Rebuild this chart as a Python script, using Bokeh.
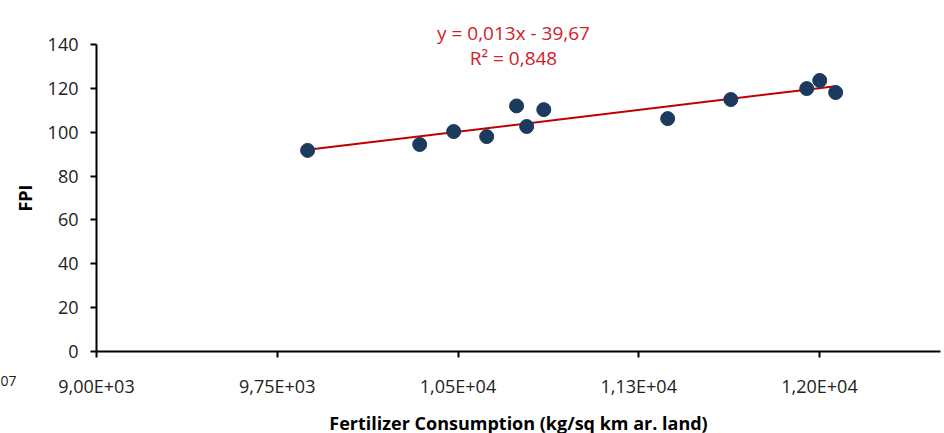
import numpy as np
from bokeh.plotting import figure
from bokeh.models import Range1d, FixedTicker, CustomJSTickFormatter, Label
from bokeh.embed import file_html
from bokeh.resources import INLINE

# Data
fertilizer = [9876, 10341, 10482, 10619, 10743, 10785, 10856, 11370, 11632, 11947, 12001, 12067]
fpi = [91.7, 94.4, 100.3, 98.0, 112.0, 102.6, 110.3, 106.2, 114.9, 119.9, 123.6, 118.1]
x_ticks = [9000, 9750, 10500, 11250, 12000]
x_tick_labels = ["9,00E+03", "9,75E+03", "1,05E+04", "1,13E+04", "1,20E+04"]
y_ticks = [0, 20, 40, 60, 80, 100, 120, 140]
equation_text = "y = 0,013x - 39,67"
r2_text = "R\u00b2 = 0,848"

FONT = "Open Sans"
W, H = 944, 433
# layout: axis origin in pixels and scale
X0_PX, Y0_PX = 96.0, 351.0
X_SCALE = 180.75 / 750.0        # px per x unit
Y_SCALE = (351.0 - 44.0) / 140.0  # px per y unit
x_start = 9000 - X0_PX / X_SCALE
x_end = x_start + W / X_SCALE
y_start = -(H - Y0_PX) / Y_SCALE
y_end = y_start + H / Y_SCALE

p = figure(width=W, height=H, output_backend="svg", toolbar_location=None,
           x_range=Range1d(x_start, x_end), y_range=Range1d(y_start, y_end),
           min_border=0)
p.outline_line_color = None
p.xgrid.visible = False
p.ygrid.visible = False

# Trendline (least squares fit of the data)
slope, intercept = np.polyfit(fertilizer, fpi, 1)
xs = [min(fertilizer), max(fertilizer)]
ys = [slope * x + intercept for x in xs]
p.line(xs, ys, line_color="#c00000", line_width=2)

p.scatter(fertilizer, fpi, size=14, fill_color="#1b3a5e", line_color="#1b3a5e")

label_map = {str(t): l for t, l in zip(x_ticks, x_tick_labels)}
p.xaxis.ticker = FixedTicker(ticks=x_ticks)
p.xaxis.formatter = CustomJSTickFormatter(args=dict(m=label_map), code="return m[String(Math.round(tick))] || '';")
p.yaxis.ticker = FixedTicker(ticks=y_ticks)
p.xaxis.fixed_location = 0
p.yaxis.fixed_location = 9000
p.xaxis.bounds = (9000, 12500)
p.yaxis.bounds = (0, 140)

for ax in (p.xaxis[0], p.yaxis[0]):
    ax.axis_line_color = "black"
    ax.axis_line_width = 2
    ax.major_tick_line_color = "black"
    ax.major_tick_line_width = 2
    ax.major_tick_in = 0
    ax.major_tick_out = 6
    ax.minor_tick_line_color = None
    ax.major_label_text_font = FONT
    ax.major_label_text_font_size = "18px"
    ax.major_label_text_color = "#222222"
    ax.axis_label_text_font = FONT
    ax.axis_label_text_font_size = "18px"
    ax.axis_label_text_font_style = "bold"
    ax.axis_label_text_color = "black"

p.xaxis.major_label_standoff = 16
p.yaxis.major_label_standoff = 12
p.xaxis.axis_label = "Fertilizer Consumption (kg/sq km ar. land)"
p.xaxis.axis_label_standoff = 10
p.yaxis.axis_label = "FPI"
p.yaxis.axis_label_standoff = 8

# Screen coordinates are relative to the frame's bottom-left corner (frame = whole canvas)
p.add_layout(Label(x=513, y=H - 32, x_units="screen", y_units="screen", text=equation_text,
                   text_align="center", text_baseline="middle", text_font=FONT,
                   text_font_size="19px", text_color="#d0202a"))
p.add_layout(Label(x=513, y=H - 57, x_units="screen", y_units="screen", text=r2_text,
                   text_align="center", text_baseline="middle", text_font=FONT,
                   text_font_size="19px", text_color="#d0202a"))
p.add_layout(Label(x=8, y=H - 380, x_units="screen", y_units="screen", text="07",
                   text_align="center", text_baseline="middle", text_font=FONT,
                   text_font_size="14px", text_color="#222222"))

open("out.html", "w").write(file_html(p, INLINE))
